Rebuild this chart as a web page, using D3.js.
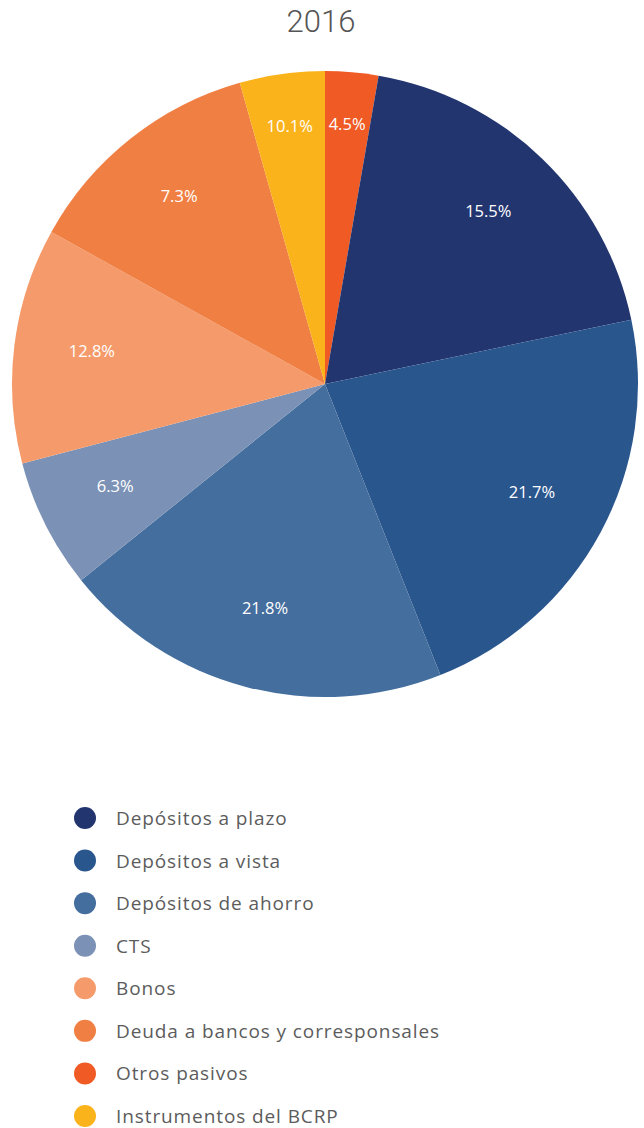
<!DOCTYPE html>
<html>
<head>
<meta charset="utf-8">
<script src="https://cdn.jsdelivr.net/npm/d3@7"></script>
<style>
  html, body { margin: 0; padding: 0; background: #ffffff; }
  svg { display: block; }
</style>
</head>
<body>
<svg id="chart" width="644" height="1128"></svg>
<script>
// Pie order, clockwise from 12 o'clock
const categories = [
  "Otros pasivos",
  "Depósitos a plazo",
  "Depósitos a vista",
  "Depósitos de ahorro",
  "CTS",
  "Bonos",
  "Deuda a bancos y corresponsales",
  "Instrumentos del BCRP"
];
// Slice sizes (share of the circle, %)
const values = [2.74, 18.97, 22.28, 20.23, 6.69, 12.16, 12.54, 4.39];
// Text printed on each slice
const sliceLabels = ["4.5%", "15.5%", "21.7%", "21.8%", "6.3%", "12.8%", "7.3%", "10.1%"];
const colors = ["#F05A24", "#22356F", "#2A568E", "#446E9E", "#7B92B6", "#F59A6A", "#F07F43", "#FBB31B"];
// Legend order
const legendOrder = [
  "Depósitos a plazo",
  "Depósitos a vista",
  "Depósitos de ahorro",
  "CTS",
  "Bonos",
  "Deuda a bancos y corresponsales",
  "Otros pasivos",
  "Instrumentos del BCRP"
];
const title = "2016";

const svg = d3.select("#chart");
const cx = 325, cy = 384, R = 313;
const font = "'Open Sans', Roboto, sans-serif";

svg.append("text")
  .attr("x", 321).attr("y", 21)
  .attr("text-anchor", "middle")
  .attr("dominant-baseline", "central")
  .style("font-family", "Roboto, sans-serif")
  .style("font-weight", 300)
  .style("font-size", "31px")
  .style("fill", "#555555")
  .text(title);

const data = categories.map((c, i) => ({ name: c, value: values[i], label: sliceLabels[i], color: colors[i] }));
const pie = d3.pie().sort(null).value(d => d.value);
const arcs = pie(data);
const arc = d3.arc().innerRadius(0).outerRadius(R);

const g = svg.append("g").attr("transform", `translate(${cx},${cy})`);
g.selectAll("path.slice").data(arcs).join("path")
  .attr("class", "slice")
  .attr("d", arc)
  .attr("fill", d => d.data.color);

g.selectAll("text.lbl").data(arcs).join("text")
  .attr("class", "lbl")
  .attr("transform", d => {
    const small = (d.endAngle - d.startAngle) < 0.35;
    const lr = small ? 257 : 235;
    const a = (d.startAngle + d.endAngle) / 2;
    return `translate(${lr * Math.sin(a)},${-lr * Math.cos(a) - 4})`;
  })
  .attr("text-anchor", "middle")
  .attr("dominant-baseline", "central")
  .style("font-family", font)
  .style("font-weight", 400)
  .style("font-size", "16.5px")
  .style("fill", "#ffffff")
  .text(d => d.data.label);

const colorOf = d3.scaleOrdinal().domain(categories).range(colors);
const ly = d3.scalePoint().domain(legendOrder).range([818, 1116]);
const leg = svg.append("g");
const items = leg.selectAll("g").data(legendOrder).join("g")
  .attr("transform", d => `translate(0,${ly(d)})`);
items.append("circle").attr("cx", 85).attr("cy", 0).attr("r", 11).attr("fill", d => colorOf(d));
items.append("text")
  .attr("x", 116).attr("y", 0)
  .attr("dominant-baseline", "central")
  .style("font-family", font)
  .style("font-weight", 400)
  .style("font-size", "19px")
  .style("letter-spacing", "0.9px")
  .style("fill", "#5c5c5c")
  .text(d => d);
</script>
</body>
</html>
